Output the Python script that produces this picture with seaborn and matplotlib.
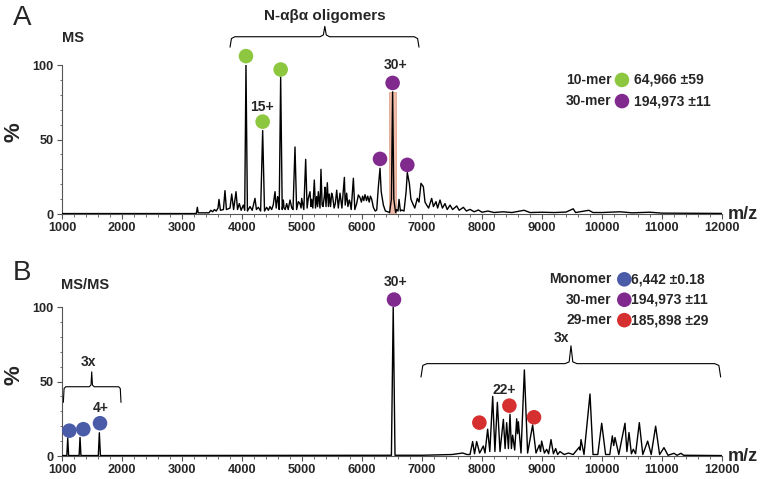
import numpy as np
import pandas as pd
import matplotlib
matplotlib.use("Agg")
import matplotlib.pyplot as plt
import seaborn as sns
from matplotlib.ticker import MultipleLocator

sns.set_theme(style="ticks")
plt.rcParams['font.family'] = ['Liberation Sans', 'DejaVu Sans']
plt.rcParams['font.weight'] = 'bold'

GREEN = '#8dc63f'
PURPLE = '#7f2a8c'
BLUE = '#4a5ba8'
RED = '#d62f2f'
AXC = '#555555'

# ----------------------------------------------------------------
# DATA - panel A (MS) spectrum profile, m/z vs %
# ----------------------------------------------------------------
a_mz = [1000, 3200, 3240, 3255, 3270, 3450, 3480, 3510, 3540, 3570, 3600, 3616, 3640,
        3690, 3716, 3740, 3800, 3828, 3860, 3900, 3925, 3955, 3985, 4022, 4045, 4066,
        4090, 4133, 4170, 4216, 4240, 4272, 4310, 4344, 4375, 4411, 4440, 4466, 4494,
        4520, 4550, 4570, 4594, 4605, 4620, 4644, 4670, 4689, 4700, 4720, 4744, 4770,
        4800, 4830, 4850, 4883, 4910, 4939, 4966, 4985, 4994, 5030, 5061, 5085, 5105,
        5133, 5150, 5161, 5180, 5205, 5225, 5244, 5260, 5272, 5300, 5316, 5335, 5350,
        5372, 5383, 5400, 5422, 5440, 5455, 5475, 5494, 5511, 5535, 5555, 5578, 5605,
        5633, 5665, 5706, 5720, 5744, 5765, 5789, 5800, 5820, 5856, 5880, 5911, 5939,
        5967, 5990, 6010, 6030, 6050, 6075, 6095, 6120, 6140, 6161, 6189, 6220, 6245,
        6272, 6300, 6320, 6356, 6390, 6422, 6460, 6490, 6510, 6530, 6560, 6578, 6600,
        6617, 6640, 6661, 6700, 6735, 6755, 6789, 6815, 6845, 6880, 6922, 6950, 6983,
        7022, 7050, 7078, 7110, 7161, 7190, 7233, 7260, 7300, 7340, 7383, 7420, 7467,
        7510, 7578, 7620, 7689, 7740, 7800, 7870, 7939, 8000, 8100, 8200, 8350, 8500,
        8700, 8800, 9000, 9200, 9400, 9520, 9560, 9780, 9850, 10000, 10300, 10500,
        10800, 11000, 11500, 12000]
a_pct = [0.3, 0.3, 0.5, 4.5, 0.8, 0.8, 2.5, 1.5, 3, 2, 4, 9.8, 2.5,
         3, 15.7, 3, 4, 13.4, 3, 15, 3, 7, 2.5, 6, 2.5, 100,
         2, 5, 2.5, 10.5, 3, 4.5, 2, 56, 2, 4.5, 2.5, 5, 3,
         6, 15, 4, 11.6, 9.4, 3, 92, 3, 9.4, 4, 3, 7, 3,
         9.4, 4, 3, 45, 3, 8.3, 7, 4, 10.5, 3, 36.7, 4, 10.5,
         15, 5, 9.8, 4, 22.8, 4, 11.7, 5, 15, 4, 30, 6, 5,
         12, 18, 5, 21, 5, 13.4, 5, 14, 11.6, 4, 7, 16, 4,
         14, 4, 24.6, 6, 14, 5, 9.4, 8, 3, 24, 3, 7, 12.8,
         11, 8, 12, 9, 13, 9, 12, 8, 12, 10, 4.5, 2, 2.7,
         18, 30.7, 15, 6, 2, 1.6, 1, 10, 82, 10, 1, 3, 2,
         9.8, 2, 2.7, 2, 15, 27.8, 20.6, 10, 7, 4, 10.5, 8, 20.6,
         18.4, 8, 6, 4, 10.5, 5, 8.3, 4, 9.4, 4, 7, 3, 6,
         3, 5.4, 2.5, 4.5, 2, 3.1, 1.5, 2.7, 1.2, 2, 1, 1.5, 1,
         2.5, 1, 1.2, 1, 1.3, 3.5, 1, 2.5, 1, 1, 1.5, 0.8,
         1.2, 0.6, 0.5, 0.4]

# ----------------------------------------------------------------
# DATA - panel B (MS/MS) spectrum profile
# ----------------------------------------------------------------
b_mz = [1000, 1080, 1095, 1110, 1285, 1300, 1315, 1605, 1622, 1640, 6490, 6520, 6550,
        7000, 7300, 7500, 7678, 7750, 7800, 7844, 7875, 7911, 7960, 8022, 8050, 8094,
        8130, 8178, 8215, 8256, 8300, 8356, 8385, 8411, 8440, 8467, 8490, 8511, 8545,
        8578, 8592, 8606, 8650, 8706, 8760, 8844, 8900, 8956, 8975, 8994, 9040, 9078,
        9110, 9150, 9190, 9228, 9260, 9300, 9370, 9440, 9520, 9622, 9635, 9650, 9700,
        9800, 9850, 9930, 9995, 10060, 10130, 10172, 10195, 10217, 10280, 10383, 10415,
        10450, 10490, 10522, 10560, 10622, 10680, 10761, 10820, 10894, 10960, 11033,
        11100, 11200, 11250, 11317, 11360, 12000]
b_pct = [0.3, 0.3, 12, 0.3, 0.3, 12.5, 0.3, 0.3, 15.6, 0.3, 0.5, 100, 0.5,
         0.5, 0.8, 1, 2, 1, 1, 9.7, 1.5, 9.7, 2, 6.7, 2, 18,
         3, 40, 3, 36, 3, 24.6, 5, 22.4, 5, 28, 5, 14, 4,
         25, 15, 23, 2, 57.8, 2, 20.8, 2, 7.4, 3, 10, 2, 4.5,
         1.5, 11, 1.5, 5, 1, 3, 1, 2, 1, 6, 4, 11, 1,
         41.6, 1, 1, 22, 1, 1, 13.5, 7, 12.4, 1, 22, 3,
         15.7, 1.5, 4.5, 1.5, 22.4, 1, 10, 1, 20, 1, 5.6,
         0.5, 1.8, 0.5, 1.8, 0.5, 0.3]

# peak markers (m/z, height of dot)
a_green_mz = [4066, 4344, 4644]
a_green_y = [106, 62, 97]
a_purple_mz = [6300, 6510, 6755]
a_purple_y = [37, 88, 33]
b_blue_mz = [1122, 1355, 1633]
b_blue_y = [17, 18, 22]
b_purple_mz = [6533]
b_purple_y = [105]
b_red_mz = [7956, 8456, 8867]
b_red_y = [22.4, 33.8, 26]

legend_a = [('10-mer', GREEN, '64,966 \u00b159'), ('30-mer', PURPLE, '194,973 \u00b111')]
legend_b = [('Monomer', BLUE, '6,442 \u00b10.18'), ('30-mer', PURPLE, '194,973 \u00b111'),
            ('29-mer', RED, '185,898 \u00b129')]

xticks = list(range(1000, 12001, 1000))

# ----------------------------------------------------------------
# FIGURE
# ----------------------------------------------------------------
fig = plt.figure(figsize=(7.62, 4.79), dpi=100)
axA = fig.add_axes([0.0814, 0.5532, 0.8661, 0.311])
axB = fig.add_axes([0.0814, 0.048, 0.8661, 0.311])

dfA = pd.DataFrame({'mz': a_mz, 'pct': a_pct})
dfB = pd.DataFrame({'mz': b_mz, 'pct': b_pct})


def style_axis(ax):
    ax.set_xlim(1000, 12000)
    ax.set_ylim(0, 100)
    ax.set_xticks(xticks)
    ax.set_yticks([0, 50, 100])
    ax.xaxis.set_minor_locator(MultipleLocator(200))
    ax.yaxis.set_minor_locator(MultipleLocator(10))
    ax.tick_params(axis='both', which='major', length=3.5, width=0.8, color=AXC,
                   labelsize=9.2, pad=2.5)
    ax.tick_params(axis='both', which='minor', length=1.8, width=0.6, color=AXC)
    for lab in ax.get_xticklabels() + ax.get_yticklabels():
        lab.set_fontweight('bold')
    sns.despine(ax=ax)
    for s in ['left', 'bottom']:
        ax.spines[s].set_color(AXC)
        ax.spines[s].set_linewidth(0.8)
    ax.set_xlabel('')
    ax.set_ylabel('')
    ax.text(12350, 0, 'm/z', fontsize=13, fontweight='bold', va='center', ha='center',
            clip_on=False)


def brace(ax, x0, x1, xc, y_low, y_h, y_tip, w):
    xs = [x0, x0 + w * 0.3, x0 + w, xc - w, xc - w * 0.3, xc, xc + w * 0.3, xc + w,
          x1 - w, x1 - w * 0.3, x1]
    ys = [y_low, y_h - 1.2, y_h, y_h, y_h + 1.2, y_tip, y_h + 1.2, y_h, y_h, y_h - 1.2, y_low]
    ax.plot(xs, ys, color='black', lw=0.8, clip_on=False, solid_joinstyle='round')


def dots(ax, xs, ys, color):
    sns.scatterplot(x=xs, y=ys, ax=ax, color=color, s=110, edgecolor='none',
                    clip_on=False, zorder=5, legend=False)


# ---------------- panel A ----------------
axA.axvspan(6455, 6565, ymin=0, ymax=0.82, color='#efb29c', alpha=0.85, lw=0.6,
            ec='#e09a80', zorder=1)
sns.lineplot(data=dfA, x='mz', y='pct', ax=axA, color='black', lw=1.0,
             estimator=None, sort=True, zorder=3)
style_axis(axA)
dots(axA, a_green_mz, a_green_y, GREEN)
dots(axA, a_purple_mz, a_purple_y, PURPLE)
axA.text(4333, 72, '15+', fontsize=10, fontweight='bold', ha='center', va='center')
axA.text(6567, 100, '30+', fontsize=10, fontweight='bold', ha='center', va='center',
         clip_on=False)
brace(axA, 3800, 6950, 5380, 112, 119, 126, 80)
axA.text(5383, 133, 'N-\u03b1\u03b2\u03b1 oligomers', fontsize=11, fontweight='bold',
         ha='center', va='center', clip_on=False)
for i, (name, col, val) in enumerate(legend_a):
    yy = 90 - i * 14.2
    axA.text(10161, yy, name, fontsize=10, fontweight='bold', ha='right', va='center')
    dots(axA, [10333], [yy], col)
    axA.text(10533, yy, val, fontsize=10, fontweight='bold', ha='left', va='center')

# ---------------- panel B ----------------
sns.lineplot(data=dfB, x='mz', y='pct', ax=axB, color='black', lw=1.0,
             estimator=None, sort=True, zorder=3)
style_axis(axB)
dots(axB, b_blue_mz, b_blue_y, BLUE)
dots(axB, b_purple_mz, b_purple_y, PURPLE)
dots(axB, b_red_mz, b_red_y, RED)
axB.text(1650, 32, '4+', fontsize=10, fontweight='bold', ha='center', va='center')
axB.text(6567, 117, '30+', fontsize=10, fontweight='bold', ha='center', va='center',
         clip_on=False)
axB.text(8367, 44, '22+', fontsize=10, fontweight='bold', ha='center', va='center')
brace(axB, 1022, 1983, 1495, 36, 46.5, 56.5, 40)
axB.text(1440, 63, '3x', fontsize=10, fontweight='bold', ha='center', va='center')
brace(axB, 6983, 11978, 9483, 53, 62, 74, 100)
axB.text(9330, 79, '3x', fontsize=10, fontweight='bold', ha='center', va='center')
for i, (name, col, val) in enumerate(legend_b):
    yy = 118.6 - i * 13.7
    axB.text(10161, yy, name, fontsize=10, fontweight='bold', ha='right', va='center',
             clip_on=False)
    dots(axB, [10372], [yy], col)
    axB.text(10478, yy, val, fontsize=10, fontweight='bold', ha='left', va='center',
             clip_on=False)

# panel letters, titles, y labels
fig.text(0.029, 0.962, 'A', fontsize=20, fontweight='normal', ha='center', va='center')
fig.text(0.029, 0.43, 'B', fontsize=20, fontweight='normal', ha='center', va='center')
fig.text(0.082, 0.921, 'MS', fontsize=10.5, fontweight='bold', ha='left', va='center')
fig.text(0.080, 0.405, 'MS/MS', fontsize=10.5, fontweight='bold', ha='left', va='center')
fig.text(0.018, 1 - 132 / 479, '%', fontsize=16, fontweight='bold', rotation=90,
         ha='center', va='center')
fig.text(0.018, 1 - 375 / 479, '%', fontsize=16, fontweight='bold', rotation=90,
         ha='center', va='center')

fig.savefig('out.png', dpi=100)
